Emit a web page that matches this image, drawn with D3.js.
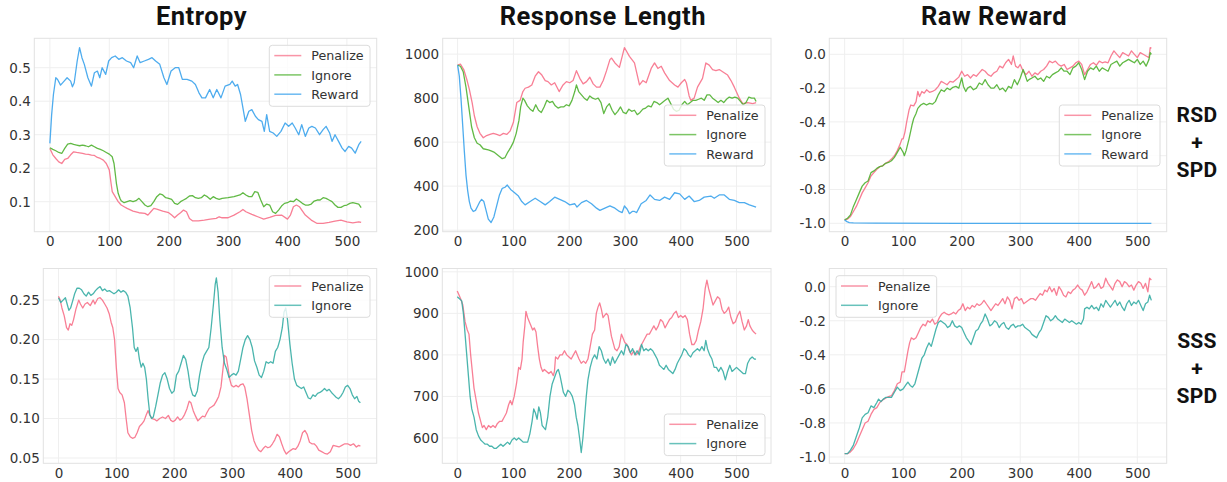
<!DOCTYPE html>
<html><head><meta charset="utf-8">
<script src="https://cdn.jsdelivr.net/npm/d3@7"></script>
<style>body{margin:0;background:#fff}</style>
</head><body><svg id="c" width="1227" height="482"></svg>
<script>
// ---------- DATA (step, value) ----------
const entropyRsdPenalize=[[0,.259],[5,.24],[10,.229],[15,.219],[20,.214],[25,.226],[30,.229],[35,.24],[40,.249],[45,.247],[50,.246],[55,.244],[60,.242],[65,.241],[70,.239],[75,.238],[80,.232],[85,.229],[90,.224],[95,.214],[100,.195],[103,.155],[105,.13],[110,.115],[115,.1],[120,.09],[125,.085],[130,.08],[140,.072],[150,.067],[160,.065],[165,.06],[170,.07],[175,.08],[180,.078],[190,.072],[200,.067],[205,.06],[210,.052],[215,.06],[220,.067],[225,.075],[230,.07],[235,.05],[240,.043],[250,.043],[260,.045],[270,.048],[280,.05],[285,.055],[290,.052],[300,.052],[310,.06],[320,.07],[325,.077],[330,.07],[340,.062],[350,.055],[360,.048],[370,.053],[380,.059],[390,.06],[400,.048],[405,.06],[410,.085],[415,.09],[420,.085],[430,.06],[440,.045],[450,.035],[460,.035],[470,.038],[480,.042],[490,.045],[500,.04],[510,.037],[520,.04],[524,.038]];
const entropyRsdIgnore=[[0,.261],[5,.256],[10,.252],[15,.247],[20,.244],[25,.259],[30,.272],[35,.274],[40,.271],[45,.269],[50,.267],[55,.269],[60,.267],[65,.264],[70,.269],[75,.264],[80,.259],[85,.256],[90,.252],[95,.247],[100,.242],[105,.234],[108,.214],[110,.185],[112,.155],[115,.125],[118,.11],[120,.103],[125,.097],[130,.1],[135,.103],[140,.1],[145,.103],[150,.11],[155,.1],[160,.09],[165,.085],[170,.088],[175,.1],[180,.115],[185,.123],[190,.12],[195,.112],[200,.11],[205,.107],[210,.095],[215,.092],[220,.1],[225,.105],[230,.11],[235,.117],[240,.118],[245,.112],[250,.11],[255,.112],[260,.12],[265,.115],[270,.107],[275,.115],[280,.11],[285,.107],[290,.11],[300,.112],[310,.115],[320,.12],[325,.127],[330,.12],[335,.115],[340,.115],[345,.13],[350,.128],[355,.105],[360,.085],[365,.093],[370,.09],[375,.07],[380,.065],[385,.075],[390,.087],[395,.095],[400,.097],[405,.102],[410,.1],[415,.108],[420,.102],[425,.095],[430,.09],[435,.09],[440,.093],[445,.102],[450,.105],[455,.105],[460,.112],[465,.11],[470,.105],[475,.1],[480,.09],[485,.083],[490,.083],[495,.088],[500,.09],[505,.095],[510,.097],[515,.095],[520,.093],[524,.082]];
const entropyRsdReward=[[0,.274],[3,.36],[6,.42],[10,.47],[13,.465],[18,.448],[24,.46],[29,.47],[35,.46],[38,.443],[41,.455],[46,.52],[50,.56],[54,.53],[58,.51],[64,.47],[70,.445],[75,.485],[80,.49],[84,.47],[88,.5],[94,.48],[99,.52],[104,.53],[110,.535],[116,.525],[122,.53],[129,.52],[136,.515],[141,.5],[147,.535],[152,.515],[159,.52],[166,.525],[172,.53],[178,.52],[185,.51],[192,.47],[197,.45],[204,.49],[211,.5],[217,.5],[223,.465],[231,.465],[239,.46],[245,.45],[251,.425],[256,.41],[262,.41],[269,.435],[275,.41],[281,.435],[288,.41],[295,.445],[303,.45],[307,.46],[312,.445],[316,.45],[321,.42],[325,.38],[329,.34],[335,.37],[340,.375],[346,.355],[351,.345],[357,.34],[361,.31],[365,.36],[370,.31],[376,.305],[382,.295],[389,.31],[396,.335],[402,.325],[408,.335],[413,.32],[419,.3],[424,.33],[430,.295],[436,.32],[441,.325],[447,.32],[454,.3],[460,.315],[465,.325],[471,.305],[475,.28],[480,.3],[486,.28],[492,.26],[497,.25],[503,.265],[508,.26],[514,.245],[520,.27],[524,.28]];

const lengthRsdPenalize=[[0,950],[5,955],[11,930],[17,880],[21,840],[26,780],[30,720],[35,670],[40,640],[46,620],[52,630],[58,635],[64,640],[70,635],[76,630],[82,640],[88,635],[94,650],[100,690],[106,780],[112,790],[117,830],[121,845],[127,850],[133,860],[139,900],[145,920],[151,905],[157,880],[162,875],[168,860],[174,870],[182,830],[189,860],[195,875],[201,870],[207,880],[213,925],[219,890],[225,865],[231,875],[237,895],[243,865],[249,850],[255,850],[261,880],[267,925],[273,975],[276,982],[282,960],[290,940],[299,1030],[308,990],[317,960],[326,860],[332,880],[338,870],[347,935],[353,960],[359,935],[365,945],[371,915],[380,880],[389,860],[395,850],[401,870],[407,885],[410,870],[415,810],[418,790],[424,800],[430,850],[439,890],[445,960],[451,950],[457,930],[463,925],[469,930],[475,920],[484,905],[490,880],[496,850],[505,800],[511,775],[520,780],[529,775],[535,780]];
const lengthRsdIgnore=[[0,950],[5,945],[10,920],[15,850],[20,760],[25,670],[30,620],[35,595],[40,588],[46,570],[55,565],[60,560],[65,555],[70,545],[75,535],[80,525],[85,530],[90,555],[95,575],[100,600],[105,640],[110,700],[113,760],[117,800],[120,790],[125,765],[130,750],[135,740],[140,770],[145,745],[150,735],[155,760],[160,790],[165,780],[170,785],[175,765],[180,755],[185,760],[190,760],[195,770],[200,765],[205,790],[210,830],[213,860],[217,830],[222,815],[227,800],[232,790],[237,810],[242,800],[247,795],[252,800],[257,780],[262,730],[267,760],[272,775],[277,745],[282,725],[287,740],[292,760],[297,735],[302,730],[307,750],[312,740],[317,745],[322,725],[327,735],[332,750],[337,755],[342,765],[347,760],[352,785],[357,780],[362,770],[367,780],[372,790],[377,800],[382,775],[387,750],[392,740],[397,745],[402,770],[407,785],[412,770],[417,780],[422,790],[427,790],[432,795],[437,800],[442,790],[447,815],[452,815],[457,800],[462,790],[467,780],[472,790],[477,780],[482,795],[487,805],[492,800],[497,805],[502,800],[507,785],[512,770],[517,780],[522,805],[527,800],[532,800],[535,785]];
const lengthRsdReward=[[0,950],[3,900],[6,800],[9,680],[12,560],[15,450],[18,380],[21,330],[24,300],[28,285],[32,290],[36,310],[40,330],[43,340],[47,330],[51,290],[55,250],[60,235],[65,260],[70,310],[75,360],[80,390],[85,395],[89,405],[95,385],[100,375],[109,355],[115,330],[121,315],[130,330],[139,345],[148,330],[157,315],[165,330],[174,350],[183,340],[192,330],[201,315],[210,320],[214,305],[222,325],[231,335],[240,320],[249,300],[255,290],[264,300],[273,310],[282,300],[290,285],[295,280],[299,310],[304,295],[308,275],[313,285],[317,285],[321,280],[325,300],[329,320],[338,335],[345,360],[353,340],[362,335],[371,350],[380,340],[389,370],[398,365],[407,340],[415,355],[424,330],[433,335],[442,350],[454,355],[460,345],[469,360],[478,360],[487,340],[496,335],[505,325],[514,325],[523,315],[535,305]];

const rewardRsdPenalize=[[0,-.98],[5,-.975],[10,-.96],[15,-.93],[20,-.9],[25,-.86],[30,-.82],[35,-.79],[40,-.76],[45,-.72],[50,-.7],[55,-.68],[60,-.665],[65,-.66],[70,-.645],[75,-.635],[80,-.62],[85,-.6],[90,-.57],[95,-.53],[98,-.5],[100,-.5],[103,-.46],[106,-.4],[110,-.33],[113,-.3],[118,-.305],[122,-.28],[125,-.22],[128,-.25],[132,-.22],[136,-.23],[140,-.21],[145,-.225],[150,-.22],[155,-.21],[160,-.19],[165,-.16],[170,-.17],[175,-.18],[180,-.16],[185,-.165],[190,-.15],[195,-.135],[200,-.1],[205,-.13],[210,-.12],[215,-.14],[220,-.12],[225,-.13],[230,-.11],[235,-.09],[240,-.1],[245,-.12],[250,-.13],[255,-.11],[260,-.1],[265,-.07],[270,-.08],[275,-.05],[280,-.03],[285,-.06],[288,-.01],[292,-.07],[296,-.08],[300,-.06],[305,-.1],[310,-.12],[315,-.1],[320,-.13],[325,-.11],[330,-.12],[335,-.1],[340,-.09],[345,-.07],[350,-.04],[355,-.05],[360,-.04],[365,-.06],[370,-.07],[375,-.06],[380,-.09],[385,-.08],[390,-.07],[395,-.05],[400,-.04],[405,-.06],[410,-.12],[415,-.09],[420,-.06],[425,-.05],[430,-.065],[435,-.04],[440,-.05],[445,-.045],[450,-.05],[455,-.01],[460,.02],[465,0],[470,-.02],[475,.01],[480,0],[485,-.01],[490,.02],[495,0],[500,-.02],[505,.01],[510,0],[515,-.01],[520,-.02],[522,.04],[524,.035]];
const rewardRsdIgnore=[[0,-.98],[5,-.97],[10,-.95],[15,-.9],[20,-.86],[25,-.82],[30,-.78],[35,-.76],[40,-.75],[45,-.7],[50,-.69],[55,-.675],[60,-.665],[65,-.66],[70,-.645],[75,-.64],[80,-.63],[85,-.61],[90,-.58],[95,-.55],[100,-.58],[102,-.6],[105,-.57],[110,-.5],[115,-.42],[118,-.38],[122,-.35],[125,-.32],[130,-.3],[135,-.29],[140,-.3],[145,-.29],[150,-.295],[155,-.28],[160,-.24],[165,-.21],[170,-.22],[175,-.2],[180,-.21],[185,-.195],[190,-.19],[195,-.2],[200,-.14],[203,-.19],[207,-.22],[210,-.2],[215,-.19],[220,-.21],[225,-.2],[230,-.17],[235,-.18],[240,-.15],[245,-.18],[250,-.2],[255,-.2],[260,-.18],[265,-.21],[270,-.2],[275,-.22],[280,-.19],[285,-.2],[290,-.15],[295,-.18],[300,-.14],[305,-.09],[308,-.12],[312,-.16],[315,-.15],[320,-.14],[325,-.13],[330,-.15],[335,-.14],[340,-.16],[345,-.13],[350,-.14],[355,-.12],[360,-.11],[365,-.1],[370,-.08],[375,-.1],[380,-.1],[385,-.12],[390,-.08],[395,-.07],[400,-.05],[405,-.09],[410,-.15],[415,-.1],[420,-.08],[425,-.09],[430,-.07],[435,-.1],[440,-.08],[445,-.09],[450,-.1],[455,-.06],[460,-.05],[465,-.04],[470,-.07],[475,-.05],[480,-.04],[485,-.03],[490,-.04],[495,-.05],[500,-.03],[505,-.06],[510,-.04],[515,-.07],[520,-.03],[522,.01],[524,0]];
const rewardRsdReward=[[0,-.98],[4,-.99],[8,-.996],[15,-.998],[50,-.999],[200,-1],[524,-1]];

const entropySssPenalize=[[0,.255],[3,.25],[6,.24],[10,.23],[14,.215],[17,.212],[20,.22],[23,.218],[26,.225],[30,.238],[35,.25],[38,.245],[42,.24],[46,.245],[50,.247],[55,.243],[60,.25],[63,.245],[68,.252],[72,.253],[76,.25],[80,.245],[84,.24],[88,.232],[91,.222],[94,.215],[97,.2],[100,.165],[103,.138],[106,.133],[110,.13],[114,.12],[117,.1],[120,.082],[124,.077],[128,.075],[132,.076],[136,.082],[140,.09],[144,.093],[148,.097],[152,.105],[155,.11],[158,.104],[162,.1],[166,.099],[170,.097],[175,.1],[180,.102],[185,.1],[190,.104],[194,.098],[198,.096],[202,.098],[206,.102],[210,.098],[214,.1],[218,.105],[222,.112],[226,.122],[229,.12],[233,.11],[237,.103],[241,.097],[245,.1],[249,.103],[253,.102],[257,.108],[261,.113],[265,.115],[269,.117],[273,.122],[277,.128],[281,.14],[284,.16],[287,.18],[290,.178],[293,.165],[296,.15],[299,.142],[303,.14],[307,.142],[311,.14],[315,.143],[319,.144],[322,.14],[326,.125],[330,.105],[334,.085],[338,.072],[342,.065],[346,.06],[350,.058],[354,.062],[358,.065],[362,.063],[366,.064],[370,.068],[374,.073],[378,.08],[382,.077],[386,.068],[390,.06],[394,.055],[398,.058],[402,.06],[406,.062],[410,.061],[414,.065],[418,.072],[422,.082],[426,.085],[430,.08],[434,.07],[438,.068],[442,.068],[446,.065],[450,.06],[455,.058],[460,.056],[465,.055],[470,.058],[475,.066],[480,.065],[485,.064],[490,.066],[495,.068],[500,.068],[505,.066],[510,.068],[515,.064],[519,.066],[522,.065]];
const entropySssIgnore=[[0,.253],[4,.247],[8,.25],[12,.253],[15,.245],[18,.237],[21,.24],[25,.25],[28,.258],[32,.265],[36,.265],[40,.263],[44,.258],[48,.255],[52,.26],[56,.256],[60,.258],[64,.262],[68,.265],[72,.267],[76,.262],[80,.264],[84,.261],[88,.262],[92,.26],[96,.258],[100,.26],[104,.263],[108,.26],[112,.262],[116,.26],[120,.255],[124,.24],[128,.215],[131,.19],[134,.185],[137,.19],[140,.175],[143,.165],[146,.17],[149,.165],[152,.15],[155,.125],[158,.105],[161,.1],[164,.102],[168,.115],[172,.13],[176,.145],[180,.155],[184,.158],[188,.15],[192,.138],[196,.132],[200,.135],[204,.155],[208,.16],[212,.17],[216,.18],[220,.175],[224,.16],[228,.14],[232,.13],[236,.128],[240,.135],[244,.155],[248,.17],[252,.18],[256,.185],[260,.19],[264,.215],[268,.245],[271,.27],[273,.278],[276,.26],[279,.225],[283,.19],[287,.17],[291,.162],[295,.152],[299,.155],[303,.157],[307,.155],[311,.16],[315,.175],[319,.19],[323,.2],[327,.205],[331,.2],[335,.19],[339,.173],[343,.165],[347,.155],[351,.152],[355,.16],[359,.172],[363,.17],[367,.172],[371,.17],[375,.185],[379,.19],[383,.2],[387,.215],[390,.235],[393,.24],[396,.225],[400,.195],[404,.17],[408,.15],[412,.142],[416,.14],[420,.138],[424,.14],[428,.133],[432,.126],[436,.125],[440,.13],[444,.128],[448,.132],[452,.133],[456,.135],[460,.138],[464,.135],[468,.137],[472,.133],[476,.13],[480,.127],[484,.125],[488,.128],[492,.133],[496,.14],[500,.142],[504,.138],[508,.13],[512,.125],[516,.128],[519,.122],[522,.12]];

const lengthSssPenalize=[[0,954],[3,945],[6,935],[10,920],[14,880],[18,860],[21,850],[24,800],[27,760],[30,720],[34,690],[38,660],[42,640],[45,625],[48,630],[52,620],[56,630],[60,625],[64,630],[68,625],[72,635],[76,640],[80,640],[84,650],[88,660],[92,680],[95,690],[98,680],[102,700],[106,730],[110,770],[113,765],[116,790],[118,830],[121,870],[123,905],[126,890],[129,880],[132,870],[135,860],[138,865],[141,855],[144,820],[147,790],[150,770],[153,760],[156,765],[160,760],[164,755],[168,760],[172,750],[174,760],[176,795],[180,790],[184,800],[188,800],[192,810],[196,800],[200,795],[204,790],[208,800],[212,810],[215,800],[218,790],[222,780],[226,785],[230,780],[234,790],[238,820],[242,850],[246,860],[249,900],[252,915],[255,925],[258,910],[261,890],[264,895],[267,900],[270,895],[273,870],[276,845],[279,830],[282,815],[286,810],[290,820],[294,850],[297,840],[300,830],[304,825],[308,810],[312,800],[316,810],[320,800],[324,805],[328,820],[332,830],[336,840],[340,850],[344,850],[348,860],[352,870],[356,860],[360,870],[364,885],[368,880],[372,865],[376,875],[380,885],[384,890],[388,900],[392,905],[396,890],[400,895],[404,890],[408,895],[412,885],[416,850],[420,825],[424,825],[428,835],[432,860],[436,880],[440,910],[444,960],[447,980],[450,960],[454,940],[458,920],[462,930],[466,940],[470,935],[474,910],[478,900],[482,905],[486,915],[490,890],[494,875],[498,880],[502,895],[506,905],[510,880],[514,860],[518,870],[521,885],[524,870],[528,860],[531,855],[535,850]];
const lengthSssIgnore=[[0,940],[4,935],[8,930],[11,900],[14,850],[17,800],[20,750],[23,700],[26,670],[30,650],[34,620],[38,605],[42,595],[46,590],[50,585],[54,585],[58,580],[62,580],[66,575],[70,575],[74,580],[78,585],[82,580],[86,585],[90,590],[94,585],[98,595],[102,600],[106,595],[110,600],[114,595],[118,590],[122,590],[126,590],[130,610],[134,640],[137,670],[140,660],[143,645],[146,675],[149,660],[152,630],[155,625],[158,620],[162,650],[166,700],[170,730],[174,745],[178,760],[181,765],[184,750],[187,730],[190,710],[194,700],[198,715],[202,710],[206,700],[210,680],[213,650],[216,630],[219,600],[222,565],[225,600],[228,650],[231,700],[234,740],[238,770],[242,790],[246,800],[250,790],[254,820],[258,810],[262,790],[266,780],[270,790],[274,775],[278,795],[282,780],[286,790],[290,800],[294,810],[298,800],[302,825],[306,820],[310,805],[314,815],[318,800],[322,810],[326,800],[330,825],[334,810],[338,815],[342,810],[346,815],[350,810],[354,800],[358,790],[362,775],[366,770],[370,765],[374,775],[378,765],[382,760],[386,755],[390,765],[394,780],[398,790],[402,800],[406,815],[410,810],[414,800],[418,795],[422,805],[426,810],[430,815],[434,810],[438,820],[442,810],[445,835],[448,815],[452,800],[456,790],[460,770],[464,770],[468,760],[472,770],[476,760],[480,740],[484,760],[488,775],[492,760],[496,765],[500,770],[504,765],[508,760],[512,755],[516,755],[520,780],[524,790],[528,795],[532,790],[535,790]];

const rewardSssPenalize=[[0,-.98],[5,-.98],[10,-.97],[15,-.95],[20,-.92],[25,-.88],[30,-.84],[35,-.8],[40,-.79],[45,-.75],[50,-.72],[55,-.71],[60,-.68],[65,-.665],[70,-.655],[75,-.645],[80,-.64],[85,-.61],[90,-.57],[95,-.56],[98,-.5],[102,-.5],[105,-.44],[108,-.38],[111,-.33],[114,-.3],[118,-.31],[122,-.3],[126,-.27],[130,-.24],[134,-.22],[138,-.23],[142,-.2],[146,-.21],[150,-.19],[154,-.22],[158,-.21],[162,-.18],[166,-.16],[170,-.15],[174,-.16],[178,-.165],[182,-.16],[186,-.15],[190,-.16],[194,-.14],[198,-.13],[202,-.1],[206,-.14],[210,-.12],[214,-.13],[218,-.11],[222,-.12],[226,-.1],[230,-.11],[234,-.1],[238,-.08],[242,-.1],[246,-.12],[250,-.14],[254,-.12],[258,-.1],[262,-.11],[266,-.09],[270,-.07],[274,-.1],[278,-.06],[282,-.08],[286,-.13],[290,-.07],[294,-.06],[298,-.08],[302,-.07],[306,-.1],[310,-.09],[314,-.08],[318,-.07],[322,-.07],[326,-.08],[330,-.06],[334,-.04],[338,-.05],[342,-.02],[346,-.03],[350,0],[354,-.03],[358,-.01],[362,-.05],[366,0],[370,-.02],[374,-.05],[378,-.06],[382,-.03],[386,-.04],[390,-.02],[394,-.01],[398,.01],[402,-.01],[406,-.02],[410,-.05],[414,-.03],[418,0],[422,.03],[426,-.01],[430,0],[434,.02],[438,-.01],[442,0],[446,.05],[450,.02],[454,0],[458,-.02],[462,.02],[466,.04],[470,.03],[474,0],[478,.03],[482,.02],[486,0],[490,.01],[494,-.02],[498,.01],[502,.03],[506,.02],[510,-.01],[514,.02],[518,-.03],[521,.05],[524,.04]];
const rewardSssIgnore=[[0,-.98],[5,-.98],[10,-.96],[15,-.93],[20,-.88],[25,-.83],[30,-.77],[35,-.75],[40,-.74],[45,-.7],[50,-.71],[55,-.68],[58,-.66],[62,-.675],[66,-.66],[70,-.65],[75,-.65],[80,-.65],[85,-.62],[90,-.59],[95,-.61],[100,-.6],[104,-.58],[108,-.56],[112,-.58],[116,-.59],[120,-.57],[124,-.52],[128,-.47],[132,-.42],[136,-.4],[140,-.36],[144,-.33],[148,-.35],[152,-.3],[156,-.25],[160,-.21],[164,-.2],[168,-.21],[172,-.22],[176,-.24],[180,-.23],[184,-.2],[188,-.23],[192,-.24],[196,-.23],[200,-.24],[204,-.27],[208,-.3],[212,-.32],[216,-.34],[220,-.3],[224,-.26],[228,-.25],[232,-.22],[236,-.2],[240,-.16],[244,-.19],[248,-.23],[252,-.22],[256,-.2],[260,-.21],[264,-.24],[268,-.22],[272,-.21],[276,-.24],[280,-.25],[284,-.23],[288,-.22],[292,-.24],[296,-.23],[300,-.23],[304,-.22],[308,-.24],[312,-.25],[316,-.26],[320,-.28],[324,-.29],[328,-.3],[332,-.27],[336,-.25],[340,-.21],[344,-.17],[348,-.18],[352,-.2],[356,-.19],[360,-.17],[364,-.19],[368,-.2],[372,-.21],[376,-.19],[380,-.2],[384,-.21],[388,-.2],[392,-.21],[396,-.22],[400,-.21],[404,-.22],[408,-.19],[410,-.13],[414,-.12],[418,-.13],[422,-.11],[426,-.13],[430,-.12],[434,-.14],[438,-.1],[442,-.12],[446,-.08],[450,-.1],[454,-.12],[458,-.1],[462,-.08],[466,-.11],[470,-.09],[474,-.12],[478,-.14],[482,-.1],[486,-.08],[490,-.11],[494,-.09],[498,-.1],[502,-.08],[506,-.11],[510,-.14],[514,-.1],[518,-.09],[521,-.05],[524,-.08]];

const xTickValues=[0,100,200,300,400,500];
const entropyRsdTicks=[0.1,0.2,0.3,0.4,0.5];
const lengthRsdTicks=[200,400,600,800,1000];
const rewardTicks=[-1.0,-0.8,-0.6,-0.4,-0.2,0.0];
const entropySssTicks=[0.05,0.10,0.15,0.20,0.25];
const lengthSssTicks=[600,700,800,900,1000];
const titles=["Entropy","Response Length","Raw Reward"];
const rowLabels=[["RSD","+","SPD"],["SSS","+","SPD"]];

// ---------- STYLE / LAYOUT ----------
const C={pen:'#f77189',ign:'#50b131',rew:'#3ba3ec',ignT:'#36ada4'};
const panels=[
 {f:[34.3,38.3,376.7,231.7],xd:[-26.2,550.2],yd:[0.0104,0.5878],yt:entropyRsdTicks,fmt:'.1f',
  s:[{n:'Penalize',d:entropyRsdPenalize,c:C.pen},{n:'Ignore',d:entropyRsdIgnore,c:C.ign},{n:'Reward',d:entropyRsdReward,c:C.rew}],lg:[269.3,45.3]},
 {f:[442.7,38.3,771,231.7],xd:[-26.75,561.75],yd:[193,1072],yt:lengthRsdTicks,fmt:'d',
  s:[{n:'Penalize',d:lengthRsdPenalize,c:C.pen},{n:'Ignore',d:lengthRsdIgnore,c:C.ign},{n:'Reward',d:lengthRsdReward,c:C.rew}],lg:[664.3,105]},
 {f:[829.3,38.3,1166.7,231.7],xd:[-26.2,550.2],yd:[-1.0497,0.0947],yt:rewardTicks,fmt:'.1f',
  s:[{n:'Penalize',d:rewardRsdPenalize,c:C.pen},{n:'Ignore',d:rewardRsdIgnore,c:C.ign},{n:'Reward',d:rewardRsdReward,c:C.rew}],lg:[1059.3,105]},
 {f:[43.3,268.5,376.7,463.3],xd:[-26.2,550.2],yd:[0.0433,0.29],yt:entropySssTicks,fmt:'.2f',
  s:[{n:'Penalize',d:entropySssPenalize,c:C.pen},{n:'Ignore',d:entropySssIgnore,c:C.ignT}],lg:[269.3,275.7]},
 {f:[442.3,268.5,771,463.3],xd:[-26.75,561.75],yd:[539,1008],yt:lengthSssTicks,fmt:'d',
  s:[{n:'Penalize',d:lengthSssPenalize,c:C.pen},{n:'Ignore',d:lengthSssIgnore,c:C.ignT}],lg:[664.3,414]},
 {f:[829.3,268.5,1166.7,463.3],xd:[-26.2,550.2],yd:[-1.037,0.107],yt:rewardTicks,fmt:'.1f',
  s:[{n:'Penalize',d:rewardSssPenalize,c:C.pen},{n:'Ignore',d:rewardSssIgnore,c:C.ignT}],lg:[836,275.7]}
];

const svg=d3.select('#c');
svg.append('rect').attr('width',1227).attr('height',482).attr('fill','#fff');
const TF='DejaVu Sans, sans-serif';

panels.forEach((p,i)=>{
  const [x0,y0,x1,y1]=p.f;
  const x=d3.scaleLinear().domain(p.xd).range([x0,x1]);
  const y=d3.scaleLinear().domain(p.yd).range([y1,y0]);
  const g=svg.append('g');
  g.selectAll('.gx').data(xTickValues).join('line')
    .attr('x1',d=>x(d)).attr('x2',d=>x(d)).attr('y1',y0).attr('y2',y1)
    .attr('stroke','#efefef').attr('stroke-width',1);
  g.selectAll('.gy').data(p.yt).join('line')
    .attr('y1',d=>y(d)).attr('y2',d=>y(d)).attr('x1',x0).attr('x2',x1)
    .attr('stroke','#efefef').attr('stroke-width',1);
  g.append('rect').attr('x',x0).attr('y',y0).attr('width',x1-x0).attr('height',y1-y0)
    .attr('fill','none').attr('stroke','#e2e2e2').attr('stroke-width',1);
  const ax=g.append('g').attr('transform',`translate(0,${y1})`)
    .call(d3.axisBottom(x).tickValues(xTickValues).tickSize(0).tickPadding(5).tickFormat(d3.format('d')));
  const ay=g.append('g').attr('transform',`translate(${x0},0)`)
    .call(d3.axisLeft(y).tickValues(p.yt).tickSize(0).tickPadding(3.5).tickFormat(v=>d3.format(p.fmt)(v).replace('−','-')));
  [ax,ay].forEach(a=>{a.select('.domain').remove();
    a.selectAll('text').attr('font-family',TF).attr('font-size',13.5).attr('fill','#333');});
  const line=d3.line().x(d=>x(d[0])).y(d=>y(d[1]));
  p.s.forEach(s=>{
    g.append('path').attr('d',line(s.d)).attr('fill','none').attr('stroke',s.c)
      .attr('stroke-width',1.3).attr('stroke-opacity',0.9).attr('stroke-linejoin','round');
  });
  const [lx,ly]=p.lg;
  const lh=p.s.length===3?61:41.6;
  const lg=g.append('g');
  lg.append('rect').attr('x',lx).attr('y',ly).attr('width',100.7).attr('height',lh).attr('rx',3)
    .attr('fill','#fff').attr('fill-opacity',0.8).attr('stroke','#dcdcdc').attr('stroke-width',1);
  p.s.forEach((s,k)=>{
    const ry=ly+10.3+k*19.3;
    lg.append('line').attr('x1',lx+5).attr('x2',lx+32).attr('y1',ry).attr('y2',ry)
      .attr('stroke',s.c).attr('stroke-width',1.5).attr('stroke-opacity',0.75);
    lg.append('text').attr('x',lx+42).attr('y',ry+4.6).text(s.n)
      .attr('font-family',TF).attr('font-size',12.7).attr('fill','#333');
  });
  if(i<3){
    svg.append('text').attr('x',(x0+x1)/2-4).attr('y',25).attr('text-anchor','middle')
      .attr('font-family','Roboto, sans-serif').attr('font-weight','bold')
      .attr('font-size',25.5).attr('letter-spacing',0.5).attr('fill','#111').text(titles[i]);
  }
});
const rowBase=[122.3,348.3];
rowLabels.forEach((lines,r)=>{
  lines.forEach((t,k)=>{
    svg.append('text').attr('x',1197).attr('y',rowBase[r]+k*27.5).attr('text-anchor','middle')
      .attr('font-family','Roboto, sans-serif').attr('font-weight','bold')
      .attr('font-size',21).attr('letter-spacing',0.3).attr('fill','#111').text(t);
  });
});
</script></body></html>
